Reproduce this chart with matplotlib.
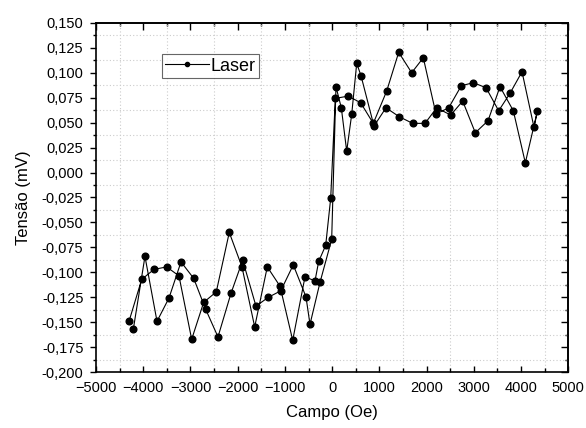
import matplotlib
matplotlib.use("Agg")
import matplotlib.pyplot as plt
from matplotlib.ticker import MultipleLocator, FuncFormatter
from matplotlib.lines import Line2D
import numpy as np

plt.rcParams['font.family'] = ['Liberation Sans', 'DejaVu Sans']

# Sweep up (from negative to positive field)
field_up = [-4301, -4032, -3772, -3503, -3243, -2974, -2720, -2453, -2178, -1909,
            -1640, -1373, -1104, -835, -575, -363, -285, -137, -31, 67, 342, 604,
            871, 1155, 1409, 1684, 1930, 2199, 2468, 2735, 2989, 3258, 3526, 3766,
            4020, 4274]
v_up = [-0.149, -0.107, -0.097, -0.0945, -0.1035, -0.167, -0.130, -0.1195, -0.060, -0.0945,
        -0.1546, -0.0945, -0.1138, -0.168, -0.1045, -0.1085, -0.089, -0.073, -0.026, 0.0742,
        0.0765, 0.0698, 0.0492, 0.0816, 0.1203, 0.0999, 0.1149, 0.0585, 0.0648, 0.0869,
        0.0899, 0.0849, 0.0618, 0.0793, 0.1009, 0.0452]

# Sweep down (listed from negative to positive field)
field_down = [-4210, -3963, -3708, -3454, -3200, -2931, -2677, -2417, -2142, -1894,
              -1612, -1358, -1089, -823, -554, -469, -257, -10, 81, 194, 308, 414, 520,
              611, 886, 1140, 1422, 1705, 1966, 2214, 2510, 2764, 3031, 3300, 3554, 3836,
              4090, 4344]
v_down = [-0.157, -0.084, -0.149, -0.1256, -0.0895, -0.106, -0.137, -0.1646, -0.121, -0.0878,
          -0.1339, -0.1251, -0.1185, -0.0925, -0.1245, -0.152, -0.110, -0.067, 0.0859, 0.0648,
          0.0214, 0.0582, 0.1093, 0.0969, 0.0465, 0.0648, 0.0558, 0.0492, 0.0492, 0.0648,
          0.0575, 0.0715, 0.0398, 0.0518, 0.0859, 0.0618, 0.0097, 0.0612]

x_ticks = list(range(-5000, 5001, 1000))
series_label = "Laser"

field = field_up + field_down[::-1]
volts = v_up + v_down[::-1]

fig = plt.figure(figsize=(5.86, 4.28), dpi=100)
ax = fig.add_axes([0.1638, 0.1302, 0.8060, 0.8168])

ax.plot(field, volts, color='black', lw=0.8, marker='o', ms=4.8, mfc='black', mec='black')

ax.set_xlim(-5000, 5000)
ax.set_ylim(-0.200, 0.150)
ax.set_xticks(x_ticks)
ax.xaxis.set_minor_locator(MultipleLocator(500))
ax.yaxis.set_major_locator(MultipleLocator(0.025))
ax.yaxis.set_minor_locator(MultipleLocator(0.0125))
ax.yaxis.set_major_formatter(FuncFormatter(lambda v, p: ("%.3f" % v).replace('.', ',').replace('-0,000', '0,000')))

ax.grid(which='minor', color='#cccccc', linestyle=(0, (1, 2)), linewidth=0.8)
ax.grid(which='major', visible=False)
ax.set_axisbelow(True)

for s in ax.spines.values():
    s.set_linewidth(1.2)

ax.tick_params(axis='y', which='major', direction='out', length=4, width=1, labelsize=10.5, pad=5)
ax.tick_params(axis='y', which='minor', direction='out', length=2, width=1)
ax.tick_params(axis='x', which='major', direction='in', length=4, width=1, labelsize=10.5, pad=6.5)
ax.tick_params(axis='x', which='minor', direction='in', length=3, width=1)

top = ax.secondary_xaxis('top')
top.set_xticks(x_ticks)
top.xaxis.set_minor_locator(MultipleLocator(500))
top.tick_params(which='major', direction='in', length=5, width=1, labeltop=False)
top.tick_params(which='minor', direction='in', length=2.5, width=1)
right = ax.secondary_yaxis('right')
right.yaxis.set_major_locator(MultipleLocator(0.025))
right.yaxis.set_minor_locator(MultipleLocator(0.0125))
right.tick_params(which='major', direction='in', length=5, width=1, labelright=False)
right.tick_params(which='minor', direction='in', length=2.5, width=1)
for sa in (top, right):
    for s in sa.spines.values():
        s.set_linewidth(1.2)

ax.set_xlabel("Campo (Oe)", fontsize=12, labelpad=7)
ax.set_ylabel("Tensão (mV)", fontsize=12, labelpad=8)

handle = Line2D([], [], color='black', lw=0.8, marker='o', ms=3, mfc='black', mec='black')
leg = ax.legend([handle], [series_label], loc='upper left', bbox_to_anchor=(0.139, 0.910),
                borderaxespad=0, fontsize=13, frameon=True, fancybox=False, handlelength=2.4,
                handletextpad=0.1, borderpad=0.2)
leg.get_frame().set_edgecolor('#404040')
leg.get_frame().set_linewidth(0.8)

fig.savefig("out.png", dpi=100)
